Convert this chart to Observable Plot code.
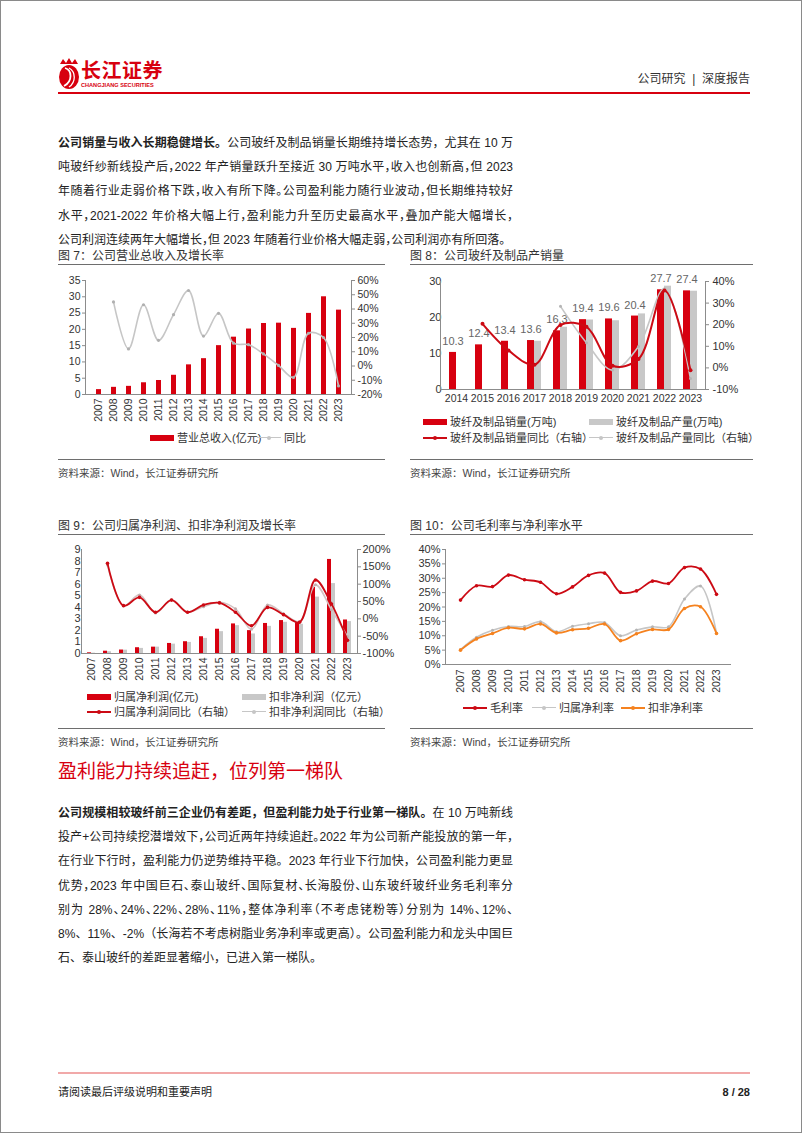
<!DOCTYPE html>
<html><head><meta charset="utf-8">
<script src="https://cdn.jsdelivr.net/npm/d3@7"></script>
<script src="https://cdn.jsdelivr.net/npm/@observablehq/plot@0.6"></script>
<style>
body{margin:0;background:#fff;}
#page{position:relative;width:802px;height:1133px;overflow:hidden;background:#fff;font-family:"Liberation Sans","Noto Sans CJK SC",sans-serif;color:#222;}
#page div{position:absolute;}
.tl{left:58px;width:455px;height:24px;line-height:24px;font-size:12px;white-space:nowrap;color:#222;}
.just{text-align:justify;text-align-last:justify;}
.halt{font-feature-settings:"halt";}
.ctitle{font-size:12px;line-height:16px;color:#333;white-space:nowrap;}
.crule{height:0;border-top:1px solid #6e6e6e;}
.src{font-size:10.5px;line-height:14px;color:#444;white-space:nowrap;}
.lg{font-size:11px;line-height:14px;color:#333;white-space:nowrap;}
</style></head>
<body><div id="page"></div>
<script>
// ---------------- data ----------------
const years17 = ["2007","2008","2009","2010","2011","2012","2013","2014","2015","2016","2017","2018","2019","2020","2021","2022","2023"];
const years10 = ["2014","2015","2016","2017","2018","2019","2020","2021","2022","2023"];
// Fig 7
const revenue = [1.5,2.2,2.5,3.6,4.3,5.9,9.1,11.0,15.0,17.6,20.1,21.8,21.9,20.3,24.9,30.0,25.9];
const revenueYoY = [null,45,12,43,18,36,53,21,37,16,15,8.5,0.4,-8,23,20,-14];
// Fig 8
const sales = [10.3,12.4,13.4,13.6,16.3,19.4,19.6,20.4,27.7,27.4];
const production = [null,null,null,13.4,17.3,19.3,19.1,21.0,28.7,27.3];
const salesYoY = [null,20.4,8.1,1.5,19.9,19.0,1.0,4.1,35.8,-1.1];
const productionYoY = [null,null,null,null,28.5,11.6,-1.0,9.9,36.7,-4.9];
// Fig 9
const netProfit = [0.06,0.2,0.3,0.5,0.55,0.87,1.02,1.45,2.1,2.56,1.98,2.6,2.85,2.65,5.72,8.14,2.9];
const deductedProfit = [0.03,0.15,0.29,0.44,0.55,0.81,0.96,1.31,1.89,2.41,1.69,2.35,2.7,2.53,4.88,6.05,2.76];
const netProfitYoY = [null,160,38,62,19,54,19,40,46,19,-20,33,12,-10,112,43,-62];
const deductedYoY = [null,155,38,69,17,55,20,35,48,29,-30,40,15,-8,98,26,-51];
// Fig 10
const grossMargin = [22.4,27.4,27.1,31.1,29.5,28.6,24.6,27.0,31.0,31.8,25.1,25.6,29.0,28.2,33.7,33.2,24.4];
const netMargin = [5.2,9.5,11.9,13.2,13.2,14.9,11.4,13.3,14.2,14.6,10.0,12.0,13.1,13.1,22.8,27.3,11.0];
const deductedMargin = [5.0,8.9,10.8,12.8,12.4,14.1,11.0,12.1,12.6,14.1,8.3,10.7,12.2,12.2,19.5,20.1,10.8];
// ticks
const ticks7L = [0,5,10,15,20,25,30,35], ticks7R = [-20,-10,0,10,20,30,40,50,60];
const ticks8L = [0,10,20,30], ticks8R = [-10,0,10,20,30,40];
const ticks9L = [0,1,2,3,4,5,6,7,8,9], ticks9R = [-100,-50,0,50,100,150,200];
const ticks10 = [0,5,10,15,20,25,30,35,40];
// labels
const titles = ["图 7：公司营业总收入及增长率","图 8：公司玻纤及制品产销量","图 9：公司归属净利润、扣非净利润及增长率","图 10：公司毛利率与净利率水平"];
const legend7 = ["营业总收入(亿元)","同比"];
const legend8 = ["玻纤及制品销量(万吨)","玻纤及制品产量(万吨)","玻纤及制品销量同比（右轴）","玻纤及制品产量同比（右轴）"];
const legend9 = ["归属净利润(亿元)","扣非净利润（亿元）","归属净利润同比（右轴）","扣非净利润同比（右轴）"];
const legend10 = ["毛利率","归属净利率","扣非净利率"];
const sourceText = "资料来源：Wind，长江证券研究所";
const para1 = [
  [["公司销量与收入长期稳健增长。",1],["公司玻纤及制品销量长期维持增长态势，尤其在 10 万",0]],
  [["吨玻纤纱新线投产后，2022 年产销量跃升至接近 30 万吨水平，收入也创新高，但 2023",0]],
  [["年随着行业走弱价格下跌，收入有所下降。公司盈利能力随行业波动，但长期维持较好",0]],
  [["水平，2021-2022 年价格大幅上行，盈利能力升至历史最高水平，叠加产能大幅增长，",0]],
  [["公司利润连续两年大幅增长，但 2023 年随着行业价格大幅走弱，公司利润亦有所回落。",0]]
];
const heading2 = "盈利能力持续追赶，位列第一梯队";
const para2 = [
  [["公司规模相较玻纤前三企业仍有差距，但盈利能力处于行业第一梯队。",1],["在 10 万吨新线",0]],
  [["投产+公司持续挖潜增效下，公司近两年持续追赶。2022 年为公司新产能投放的第一年，",0]],
  [["在行业下行时，盈利能力仍逆势维持平稳。2023 年行业下行加快，公司盈利能力更显",0]],
  [["优势，2023 年中国巨石、泰山玻纤、国际复材、长海股份、山东玻纤玻纤业务毛利率分",0]],
  [["别为 28%、24%、22%、28%、11%，整体净利率（不考虑铑粉等）分别为 14%、12%、",0]],
  [["8%、11%、-2%（长海若不考虑树脂业务净利率或更高）。公司盈利能力和龙头中国巨",0]],
  [["石、泰山玻纤的差距显著缩小，已进入第一梯队。",0]]
];

// ---------------- helpers ----------------
const RED="#d7000f", LINERED="#cc0a14", BARGRAY="#c8c8c8", LINEGRAY="#c6c6c6", PINKGRAY="#d3c4c4", ORANGE="#f5821f", AX="#8c8c8c";
const FONT='"Liberation Sans","Noto Sans CJK SC",sans-serif';
const page = document.getElementById("page");
function el(css, text, cls){const e=document.createElement("div"); if(cls) e.className=cls; e.style.cssText=css; if(text!=null) e.textContent=text; page.appendChild(e); return e;}
function put(svg,left,top){svg.style.position="absolute";svg.style.left=left+"px";svg.style.top=top+"px";page.appendChild(svg);return svg;}
function style(){return {fontFamily:FONT,fontSize:"10.5px",color:"#333",background:"none",overflow:"visible"};}
function para(lines, top){
  lines.forEach((parts,i)=>{
    const d=el(`top:${top+i*24.2}px;`,null,"tl");
    const inner=document.createElement("span");
    parts.forEach(([t,b])=>{const s=document.createElement("span"); s.textContent=t; if(b) s.style.fontWeight="700"; inner.appendChild(s);});
    d.appendChild(inner);
    if(inner.getBoundingClientRect().width>453) d.classList.add("halt");
    if(i<lines.length-1) d.classList.add("just");
  });
}
function legendBar(x,y,color,label){el(`left:${x}px;top:${y-3}px;width:24px;height:6px;background:${color};`); el(`left:${x+27}px;top:${y-7}px;`,label,"lg");}
function legendLine(x,y,color,label,w){
  el(`left:${x}px;top:${y-0.75}px;width:24px;height:0;border-top:${w||1.5}px solid ${color};`);
  el(`left:${x+10}px;top:${y-2}px;width:4px;height:4px;border-radius:2px;background:${color};`);
  el(`left:${x+27}px;top:${y-7}px;`,label,"lg");
}
function chartFrame(x,w,title,yTitle,ySrc){
  el(`left:${x}px;top:${yTitle-8}px;`,title,"ctitle");
  el(`left:${x}px;top:${yTitle+8}px;width:${w}px;`,null,"crule");
  el(`left:${x}px;top:${ySrc-14}px;width:${w}px;`,null,"crule");
  el(`left:${x}px;top:${ySrc-7}px;`,sourceText,"src");
}

// ---------------- page chrome ----------------
el("left:0;top:0;width:800px;height:1131px;border:1px solid #8a8a8a;");
page.insertAdjacentHTML("beforeend",`<svg style="position:absolute;left:57px;top:56px" width="24" height="34" viewBox="0 0 24 34">
<path d="M3 8 L6 3 L9 7 L12 2 L15 7 L18 3 L21 8 Z" fill="${RED}"/>
<ellipse cx="12" cy="21" rx="10" ry="12" fill="${RED}"/>
<path d="M8 12 C15 14 16 25 7 30" stroke="#fff" stroke-width="1.8" fill="none"/>
<path d="M12 12 C19 16 19 26 12 31" stroke="#fff" stroke-width="1.3" fill="none"/></svg>`);
el(`left:81px;top:58px;font-size:20px;line-height:24px;font-weight:700;color:${RED};font-family:"Noto Sans CJK SC";white-space:nowrap;letter-spacing:0.5px;`,"长江证券");
el(`left:81px;top:82px;font-size:5.6px;line-height:7px;font-weight:700;color:${RED};white-space:nowrap;`,"CHANGJIANG SECURITIES");
el(`left:600px;width:150px;top:71px;font-size:12px;line-height:16px;color:#333;text-align:right;white-space:pre;`,"公司研究  |  深度报告");
el(`left:58px;top:92px;width:692px;height:2px;background:${RED};`);

para(para1,131);

chartFrame(58,327,titles[0],256,473);
chartFrame(410,343,titles[1],256,473);
chartFrame(58,327,titles[2],526,742);
chartFrame(410,343,titles[3],526,742);

el(`left:58px;top:758px;font-size:19px;line-height:28px;color:${RED};white-space:nowrap;`,heading2);
para(para2,801);

el("left:58px;top:1072px;width:692px;height:2px;background:#f1a9a9;");
el("left:58px;top:1085px;font-size:11px;line-height:14px;color:#222;white-space:nowrap;","请阅读最后评级说明和重要声明");
el("left:650px;width:100px;top:1085px;font-size:11px;line-height:14px;color:#222;text-align:right;font-weight:700;white-space:nowrap;","8 / 28");

// ---------------- Figure 7 ----------------
{
  const d = years17.map((y,i)=>({year:y, v:revenue[i], r:revenueYoY[i]}));
  const dim = {width:327,height:152,marginLeft:27,marginRight:34,marginTop:12,marginBottom:26};
  const xs = {domain:years17,paddingInner:0.7,paddingOuter:0.35};
  put(Plot.plot({...dim,style:style(),x:{...xs,label:null},y:{domain:[0,35],label:null},
    marks:[
      Plot.barY(d,{x:"year",y:"v",fill:RED}),
      Plot.axisY({anchor:"left",ticks:ticks7L,tickSize:3,tickPadding:2,label:null,stroke:AX}),
      Plot.axisX({tickRotate:-90,tickSize:0,tickPadding:4,label:null,fontSize:10.5})
    ]}),58,268);
  const dl = d.filter(o=>o.r!=null);
  put(Plot.plot({...dim,style:style(),x:{...xs,axis:null},y:{domain:[-20,60],label:null},
    marks:[
      Plot.frame({anchor:"left",stroke:AX}),
      Plot.frame({anchor:"right",stroke:AX}),
      Plot.frame({anchor:"bottom",stroke:AX}),
      Plot.line(dl,{x:"year",y:"r",stroke:LINEGRAY,strokeWidth:1.6,curve:"catmull-rom"}),
      Plot.dot(dl,{x:"year",y:"r",r:1.6,fill:"#b0b0b0"}),
      Plot.axisY({anchor:"right",ticks:ticks7R,tickFormat:v=>v+"%",tickSize:3,tickPadding:3,label:null,stroke:AX})
    ]}),58,268);
  legendBar(150,438,RED,legend7[0]);
  legendLine(257,438,LINEGRAY,legend7[1]);
}

// ---------------- Figure 8 ----------------
{
  const s = years10.map((y,i)=>({year:y, v:sales[i]}));
  const p = years10.map((y,i)=>({year:y, v:production[i]})).filter(o=>o.v!=null);
  const dim = {width:343,height:140,marginLeft:30,marginRight:48,marginTop:13,marginBottom:19};
  const bands = {domain:years10,paddingInner:0.47,paddingOuter:0.235};
  put(Plot.plot({...dim,style:style(),fx:{...bands,label:null,axis:null},x:{domain:["s","p"],padding:0,axis:null},y:{domain:[0,30],label:null},
    marks:[
      Plot.barY(s,{fx:"year",x:()=>"s",y:"v",fill:RED}),
      Plot.barY(p,{fx:"year",x:()=>"p",y:"v",fill:BARGRAY}),
      Plot.text(s,{fx:"year",x:()=>"s",y:"v",text:o=>o.v.toFixed(1),dy:-11,fill:"#666",fontSize:11}),
      Plot.axisY({anchor:"left",ticks:ticks8L,tickSize:0,tickPadding:8,label:null,fontSize:11})
    ]}),410,268);
  const sy = years10.map((y,i)=>({year:y, v:salesYoY[i]})).filter(o=>o.v!=null);
  const py = years10.map((y,i)=>({year:y, v:productionYoY[i]})).filter(o=>o.v!=null);
  put(Plot.plot({...dim,style:style(),x:{...bands,label:null},y:{domain:[-10,40],label:null},
    marks:[
      Plot.frame({anchor:"left",stroke:AX}),
      Plot.frame({anchor:"right",stroke:AX}),
      Plot.frame({anchor:"bottom",stroke:AX}),
      Plot.line(py,{x:"year",y:"v",stroke:LINEGRAY,strokeWidth:1.6,curve:"catmull-rom"}),
      Plot.dot(py,{x:"year",y:"v",r:1.5,fill:"#b5b5b5"}),
      Plot.line(sy,{x:"year",y:"v",stroke:LINERED,strokeWidth:2,curve:"catmull-rom"}),
      Plot.dot(sy,{x:"year",y:"v",r:2,fill:LINERED}),
      Plot.axisY({anchor:"right",ticks:ticks8R,tickFormat:v=>v+"%",tickSize:3,tickPadding:4,label:null,stroke:AX,fontSize:11}),
      Plot.axisX({anchor:"bottom",tickSize:0,tickPadding:5,label:null,fontSize:10.5})
    ]}),410,268);
  legendBar(423,422,RED,legend8[0]);
  legendBar(589,422,BARGRAY,legend8[1]);
  legendLine(423,438,LINERED,legend8[2],2);
  legendLine(589,438,LINEGRAY,legend8[3]);
}

// ---------------- Figure 9 ----------------
{
  const a = years17.map((y,i)=>({year:y, v:netProfit[i]}));
  const b = years17.map((y,i)=>({year:y, v:deductedProfit[i]}));
  const dim = {width:327,height:142,marginLeft:23,marginRight:28,marginTop:11,marginBottom:27};
  const bands = {domain:years17,paddingInner:0.48,paddingOuter:0.24};
  put(Plot.plot({...dim,style:style(),fx:{...bands,label:null,axis:null},x:{domain:["a","b"],padding:0,axis:null},y:{domain:[0,9],label:null},
    marks:[
      Plot.barY(a,{fx:"year",x:()=>"a",y:"v",fill:RED}),
      Plot.barY(b,{fx:"year",x:()=>"b",y:"v",fill:BARGRAY}),
      Plot.axisY({anchor:"left",ticks:ticks9L,tickSize:0,tickPadding:7,label:null,fontSize:11})
    ]}),58,538);
  const ay = years17.map((y,i)=>({year:y, v:netProfitYoY[i]})).filter(o=>o.v!=null);
  const by = years17.map((y,i)=>({year:y, v:deductedYoY[i]})).filter(o=>o.v!=null);
  put(Plot.plot({...dim,style:style(),x:{...bands,label:null},y:{domain:[-100,200],label:null},
    marks:[
      Plot.frame({anchor:"left",stroke:AX}),
      Plot.frame({anchor:"right",stroke:AX}),
      Plot.frame({anchor:"bottom",stroke:AX}),
      Plot.line(by,{x:"year",y:"v",stroke:PINKGRAY,strokeWidth:1.6,curve:"catmull-rom"}),
      Plot.dot(by,{x:"year",y:"v",r:1.5,fill:"#c0b0b0"}),
      Plot.line(ay,{x:"year",y:"v",stroke:LINERED,strokeWidth:1.8,curve:"catmull-rom"}),
      Plot.dot(ay,{x:"year",y:"v",r:1.8,fill:LINERED}),
      Plot.axisY({anchor:"right",ticks:ticks9R,tickFormat:v=>v+"%",tickSize:3,tickPadding:2,label:null,stroke:AX,fontSize:11}),
      Plot.axisX({anchor:"bottom",tickRotate:-90,tickSize:0,tickPadding:4,label:null,fontSize:10.5})
    ]}),58,538);
  legendBar(87,697,RED,legend9[0]);
  legendBar(242,697,BARGRAY,legend9[1]);
  legendLine(87,712,LINERED,legend9[2],2);
  legendLine(242,712,LINEGRAY,legend9[3]);
}

// ---------------- Figure 10 ----------------
{
  const g = years17.map((y,i)=>({year:y, v:grossMargin[i]}));
  const n = years17.map((y,i)=>({year:y, v:netMargin[i]}));
  const k = years17.map((y,i)=>({year:y, v:deductedMargin[i]}));
  put(Plot.plot({width:343,height:156,marginLeft:35,marginRight:23,marginTop:11,marginBottom:30,style:style(),
    x:{type:"point",domain:years17,padding:0.5,label:null},y:{domain:[0,40],label:null},
    marks:[
      Plot.frame({anchor:"left",stroke:AX}),
      Plot.frame({anchor:"bottom",stroke:AX}),
      Plot.line(n,{x:"year",y:"v",stroke:LINEGRAY,strokeWidth:1.6,curve:"catmull-rom"}),
      Plot.dot(n,{x:"year",y:"v",r:1.5,fill:"#b5b5b5"}),
      Plot.line(k,{x:"year",y:"v",stroke:ORANGE,strokeWidth:1.8,curve:"catmull-rom"}),
      Plot.dot(k,{x:"year",y:"v",r:1.8,fill:ORANGE}),
      Plot.line(g,{x:"year",y:"v",stroke:LINERED,strokeWidth:1.8,curve:"catmull-rom"}),
      Plot.dot(g,{x:"year",y:"v",r:1.8,fill:LINERED}),
      Plot.axisY({anchor:"left",ticks:ticks10,tickFormat:v=>v+"%",tickSize:3,tickPadding:2,label:null,stroke:AX,fontSize:11}),
      Plot.axisX({tickRotate:-90,tickSize:0,tickPadding:5,label:null,fontSize:10.5})
    ]}),410,538);
  legendLine(463,708,LINERED,legend10[0],2);
  legendLine(532,708,LINEGRAY,legend10[1]);
  legendLine(621,708,ORANGE,legend10[2],2);
}
</script></body></html>
